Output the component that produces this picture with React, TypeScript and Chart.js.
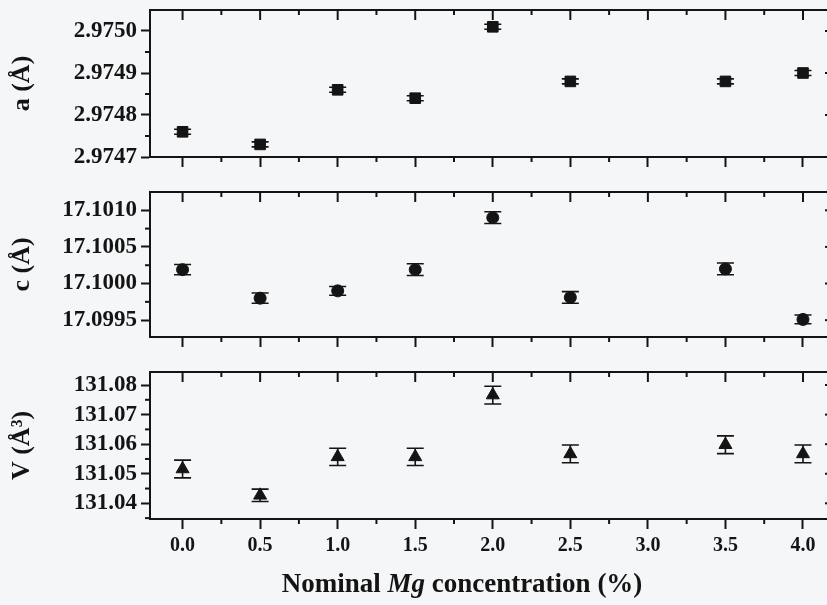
import React, { useEffect, useRef } from "react";
import { Chart, registerables } from "chart.js";

Chart.register(...registerables);

// Nominal Mg content of the samples (%)
const concentrations = [0.0, 0.5, 1.0, 1.5, 2.0, 2.5, 3.5, 4.0];

// Lattice parameter a (Å) with its uncertainty
const latticeA = [2.97476, 2.97473, 2.97486, 2.97484, 2.97501, 2.97488, 2.97488, 2.9749];
const latticeAErr = [0.000006, 0.000006, 0.000006, 0.000006, 0.000006, 0.000006, 0.000006, 0.000006];

// Lattice parameter c (Å) with its uncertainty
const latticeC = [17.10019, 17.0998, 17.0999, 17.10019, 17.1009, 17.09981, 17.1002, 17.09951];
const latticeCErr = [0.00007, 0.00007, 0.00006, 0.00008, 0.00008, 0.00008, 0.00008, 0.00006];

// Unit-cell volume V (Å³) with its uncertainty
const cellVolume = [131.0516, 131.0427, 131.0557, 131.0557, 131.0766, 131.0567, 131.0598, 131.0567];
const cellVolumeErr = [0.003, 0.0021, 0.0029, 0.0029, 0.003, 0.003, 0.003, 0.003];

// Tick values
const xTickValues = [0.0, 0.5, 1.0, 1.5, 2.0, 2.5, 3.0, 3.5, 4.0];
const aTickValues = [2.9747, 2.9748, 2.9749, 2.975];
const cTickValues = [17.0995, 17.1, 17.1005, 17.101];
const vTickValues = [131.04, 131.05, 131.06, 131.07, 131.08];

const W = 850;
const H = 605;
const AXIS_LEFT = 150;
const AXIS_RIGHT = 834;
const X_MIN = -0.21;
const X_MAX = 4.2;
const SERIF = '"Liberation Serif", "Times New Roman", serif';
const INK = "#141414";
const MAJOR = 10;
const MINOR = 5;

type Panel = {
  title: string;
  values: number[];
  errors: number[];
  ticks: number[];
  decimals: number;
  min: number;
  max: number;
  marker: "rect" | "circle" | "triangle";
  radius: number;
  top: number;
  bottom: number;
  showX: boolean;
};

const panels: Panel[] = [
  {
    title: "a (Å)",
    values: latticeA,
    errors: latticeAErr,
    ticks: aTickValues,
    decimals: 4,
    min: 2.9747,
    max: 2.97505,
    marker: "rect",
    radius: 7.5,
    top: 10,
    bottom: 157,
    showX: false,
  },
  {
    title: "c (Å)",
    values: latticeC,
    errors: latticeCErr,
    ticks: cTickValues,
    decimals: 4,
    min: 17.09927,
    max: 17.10125,
    marker: "circle",
    radius: 6,
    top: 192,
    bottom: 337,
    showX: false,
  },
  {
    title: "V (Å³)",
    values: cellVolume,
    errors: cellVolumeErr,
    ticks: vTickValues,
    decimals: 2,
    min: 131.0347,
    max: 131.0844,
    marker: "triangle",
    radius: 7.5,
    top: 372,
    bottom: 519,
    showX: true,
  },
];

// Half-way positions between major ticks that fall inside the axis range
function minorTicks(ticks: number[], min: number, max: number): number[] {
  const step = ticks[1] - ticks[0];
  const eps = Math.abs(step) * 0.02;
  const out: number[] = [];
  for (let i = -1; i < ticks.length; i++) {
    const v = ticks[0] + (i + 0.5) * step;
    if (v > min + eps && v < max - eps) out.push(v);
  }
  return out;
}

// Closed frame plus the ticks Chart.js does not draw itself:
// inward ticks on top/right and short minor ticks everywhere.
const framePlugin = {
  id: "frame",
  afterDatasetsDraw(chart: any, _args: any, opts: any) {
    const { ctx, chartArea } = chart;
    const { left, right, top, bottom } = chartArea;
    const xs = chart.scales.x;
    const ys = chart.scales.y;
    const seg = (x1: number, y1: number, x2: number, y2: number) => {
      ctx.beginPath();
      ctx.moveTo(x1, y1);
      ctx.lineTo(x2, y2);
      ctx.stroke();
    };
    ctx.save();
    ctx.strokeStyle = INK;
    ctx.lineWidth = 2;
    ctx.strokeRect(left, top, right - left, bottom - top);
    for (const v of xTickValues) {
      const px = xs.getPixelForValue(v);
      seg(px, top, px, top + MAJOR);
    }
    for (const v of opts.xMinor as number[]) {
      const px = xs.getPixelForValue(v);
      seg(px, top, px, top + MINOR);
      seg(px, bottom, px, bottom + MINOR);
    }
    for (const v of opts.yMajor as number[]) {
      const py = ys.getPixelForValue(v);
      seg(right, py, right - 9, py);
    }
    for (const v of opts.yMinor as number[]) {
      const py = ys.getPixelForValue(v);
      seg(left, py, left - MINOR, py);
      seg(right, py, right - MINOR, py);
    }
    ctx.restore();
  },
};

// Vertical error bars with caps, drawn under the markers
const errorBarPlugin = {
  id: "errorBars",
  beforeDatasetsDraw(chart: any, _args: any, opts: any) {
    const { ctx } = chart;
    const xs = chart.scales.x;
    const ys = chart.scales.y;
    const values: number[] = opts.values;
    const errors: number[] = opts.errors;
    ctx.save();
    ctx.strokeStyle = INK;
    ctx.lineWidth = 1.6;
    errors.forEach((e, i) => {
      const px = xs.getPixelForValue(concentrations[i]);
      const hi = ys.getPixelForValue(values[i] + e);
      const lo = ys.getPixelForValue(values[i] - e);
      ctx.beginPath();
      ctx.moveTo(px, hi);
      ctx.lineTo(px, lo);
      ctx.moveTo(px - 8.5, hi);
      ctx.lineTo(px + 8.5, hi);
      ctx.moveTo(px - 8.5, lo);
      ctx.lineTo(px + 8.5, lo);
      ctx.stroke();
    });
    ctx.restore();
  },
};

// Shared x-axis title with the italic element symbol
const xTitlePlugin = {
  id: "xTitle",
  afterDraw(chart: any) {
    const { ctx } = chart;
    const parts: [string, string][] = [
      ["Nominal ", `bold 27px ${SERIF}`],
      ["Mg", `italic bold 27px ${SERIF}`],
      [" concentration (%)", `bold 27px ${SERIF}`],
    ];
    ctx.save();
    ctx.fillStyle = INK;
    ctx.textBaseline = "middle";
    ctx.textAlign = "left";
    let total = 0;
    for (const [t, f] of parts) {
      ctx.font = f;
      total += ctx.measureText(t).width;
    }
    let x = 462 - total / 2;
    for (const [t, f] of parts) {
      ctx.font = f;
      ctx.fillText(t, x, 585);
      x += ctx.measureText(t).width;
    }
    ctx.restore();
  },
};

function PanelChart({ panel }: { panel: Panel }) {
  const ref = useRef<HTMLCanvasElement>(null);

  useEffect(() => {
    const xAxisHeight = panel.showX ? 86 : 10;
    const plugins: any[] = [errorBarPlugin, framePlugin];
    if (panel.showX) plugins.push(xTitlePlugin);

    const chart = new Chart(ref.current as HTMLCanvasElement, {
      type: "scatter",
      data: {
        datasets: [
          {
            data: concentrations.map((x, i) => ({ x, y: panel.values[i] })),
            pointStyle: panel.marker,
            pointRadius: panel.radius,
            backgroundColor: INK,
            borderColor: INK,
            borderWidth: 1,
            showLine: false,
          },
        ],
      },
      plugins,
      options: {
        responsive: false,
        animation: false,
        events: [],
        layout: {
          padding: {
            left: 0,
            right: W - AXIS_RIGHT,
            top: panel.top,
            bottom: H - panel.bottom - xAxisHeight,
          },
        },
        scales: {
          x: {
            type: "linear",
            min: X_MIN,
            max: X_MAX,
            afterBuildTicks: (s: any) => {
              s.ticks = xTickValues.map((value) => ({ value }));
            },
            afterFit: (s: any) => {
              s.height = xAxisHeight;
              s.paddingLeft = 0;
              s.paddingRight = 0;
            },
            border: { display: true, color: INK, width: 2 },
            grid: {
              drawOnChartArea: false,
              drawTicks: true,
              tickLength: MAJOR,
              tickWidth: 2,
              tickColor: INK,
            },
            ticks: {
              display: panel.showX,
              autoSkip: false,
              maxRotation: 0,
              padding: 5,
              color: INK,
              font: { family: SERIF, size: 20, weight: "bold" },
              callback: (v: any) => Number(v).toFixed(1),
            },
          },
          y: {
            type: "linear",
            min: panel.min,
            max: panel.max,
            afterBuildTicks: (s: any) => {
              s.ticks = panel.ticks.map((value) => ({ value }));
            },
            afterFit: (s: any) => {
              s.width = AXIS_LEFT;
              s.paddingTop = 0;
              s.paddingBottom = 0;
            },
            border: { display: true, color: INK, width: 2 },
            grid: {
              drawOnChartArea: false,
              drawTicks: true,
              tickLength: 9,
              tickWidth: 2,
              tickColor: INK,
            },
            ticks: {
              autoSkip: false,
              padding: 4,
              color: INK,
              font: { family: SERIF, size: 23, weight: "bold" },
              callback: (v: any) => Number(v).toFixed(panel.decimals),
            },
            title: {
              display: true,
              text: panel.title,
              color: INK,
              font: { family: SERIF, size: 26, weight: "bold" },
              padding: { top: 7, bottom: 0 },
            },
          },
        },
        plugins: {
          legend: { display: false },
          tooltip: { enabled: false },
          frame: {
            xMinor: minorTicks(xTickValues, X_MIN, X_MAX),
            yMajor: panel.ticks,
            yMinor: minorTicks(panel.ticks, panel.min, panel.max),
          },
          errorBars: { values: panel.values, errors: panel.errors },
        } as any,
      },
    } as any);

    return () => chart.destroy();
  }, [panel]);

  return (
    <canvas
      ref={ref}
      width={W}
      height={H}
      style={{ position: "absolute", left: 0, top: 0, width: W, height: H }}
    />
  );
}

export default function App() {
  return (
    <div
      style={{
        position: "fixed",
        left: 0,
        top: 0,
        width: 827,
        height: 605,
        overflow: "hidden",
        background: "#f5f6f8",
      }}
    >
      {panels.map((p, i) => (
        <PanelChart key={i} panel={p} />
      ))}
    </div>
  );
}
